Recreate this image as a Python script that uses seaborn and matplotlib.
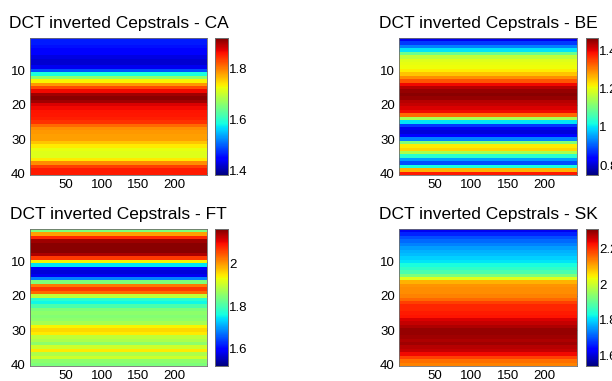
import numpy as np
import pandas as pd
import matplotlib
matplotlib.use("Agg")
import matplotlib.pyplot as plt
import seaborn as sns

sns.set_style("white")
plt.rcParams['font.family'] = ['Liberation Sans', 'DejaVu Sans']
plt.rcParams['text.color'] = 'black'
plt.rcParams['xtick.color'] = 'black'
plt.rcParams['ytick.color'] = 'black'

n_frames = 245
titles = ["DCT inverted Cepstrals - CA", "DCT inverted Cepstrals - BE",
          "DCT inverted Cepstrals - FT", "DCT inverted Cepstrals - SK"]

ca_profile = [1.463, 1.463, 1.458, 1.447, 1.442, 1.431, 1.421, 1.421, 1.437, 1.490,
              1.587, 1.662, 1.731, 1.785, 1.828, 1.865, 1.903, 1.914, 1.903, 1.876,
              1.865, 1.860, 1.858, 1.852, 1.842, 1.812, 1.790, 1.785, 1.780, 1.780,
              1.758, 1.737, 1.721, 1.715, 1.715, 1.737, 1.790, 1.835, 1.855, 1.855]
be_profile = [0.820, 0.877, 0.927, 0.998, 1.091, 1.163, 1.191, 1.198, 1.206, 1.220,
              1.249, 1.291, 1.334, 1.392, 1.427, 1.449, 1.456, 1.449, 1.427, 1.420,
              1.406, 1.392, 1.320, 1.141, 0.998, 0.877, 0.820, 0.805, 0.834, 0.927,
              1.106, 1.220, 1.234, 1.148, 1.034, 0.948, 0.891, 1.020, 1.263, 1.377]
ft_profile = [1.841, 1.997, 2.081, 2.146, 2.159, 2.159, 2.159, 2.139, 2.068, 1.938,
              1.744, 1.595, 1.569, 1.582, 1.679, 1.841, 2.022, 2.068, 2.035, 1.893,
              1.776, 1.757, 1.802, 1.841, 1.854, 1.847, 1.854, 1.873, 1.938, 1.958,
              1.945, 1.893, 1.880, 1.854, 1.906, 1.945, 1.880, 1.906, 1.854, 1.841]
sk_profile = [1.620, 1.666, 1.696, 1.719, 1.735, 1.757, 1.773, 1.780, 1.795, 1.811,
              1.834, 1.856, 1.879, 1.925, 2.016, 2.093, 2.116, 2.123, 2.123, 2.131,
              2.154, 2.184, 2.207, 2.207, 2.215, 2.222, 2.245, 2.260, 2.276, 2.291,
              2.291, 2.283, 2.276, 2.283, 2.268, 2.260, 2.230, 2.184, 2.146, 2.131]
profiles = [ca_profile, be_profile, ft_profile, sk_profile]
vlims = [(1.383, 1.919), (0.748, 1.463), (1.517, 2.165), (1.544, 2.306)]
cbar_ticks = [[1.4, 1.6, 1.8], [0.8, 1.0, 1.2, 1.4], [1.6, 1.8, 2.0], [1.6, 1.8, 2.0, 2.2]]
x_ticks = [50, 100, 150, 200]
y_ticks = [10, 20, 30, 40]

W, H = 612, 381
fig = plt.figure(figsize=(W / 100, H / 100), dpi=100)

# pixel boxes: (left, top, right, bottom) for axes and colorbar
ax_boxes = [(30, 38, 207, 175), (399, 38, 577, 175), (30, 229, 207, 366), (399, 229, 577, 366)]
cb_boxes = [(215, 38, 228, 175), (586, 38, 598, 175), (215, 229, 228, 366), (586, 229, 598, 366)]

def frac(b):
    l, t, r, btm = b
    return [l / W, 1 - btm / H, (r - l) / W, (btm - t) / H]

edge = "#6e6e6e"
for i in range(4):
    ax = fig.add_axes(frac(ax_boxes[i]))
    cax = fig.add_axes(frac(cb_boxes[i]))
    prof = np.array(profiles[i])
    data = pd.DataFrame(np.repeat(prof[:, None], n_frames, axis=1),
                        index=np.arange(1, 41), columns=np.arange(1, n_frames + 1))
    vmin, vmax = vlims[i]
    sns.heatmap(data, ax=ax, cbar_ax=cax, cmap="jet", vmin=vmin, vmax=vmax,
                xticklabels=False, yticklabels=False, rasterized=True)
    ax.set_xticks([v - 0.5 for v in x_ticks])
    ax.set_xticklabels([str(v) for v in x_ticks])
    ax.set_yticks([v - 0.5 for v in y_ticks])
    ax.set_yticklabels([str(v) for v in y_ticks])
    ax.set_xlabel("")
    ax.set_ylabel("")
    ax.tick_params(axis='both', direction='in', length=2.5, width=0.6, color=edge,
                   labelsize=9.5, labelcolor='black', top=True, right=True, pad=3,
                   labelrotation=0)
    for s in ax.spines.values():
        s.set_visible(True)
        s.set_color(edge)
        s.set_linewidth(0.6)
    ax.set_title(titles[i], fontsize=12.5, pad=7, color='black')

    cax.set_yticks(cbar_ticks[i])
    cax.set_yticklabels([f"{t:g}" for t in cbar_ticks[i]])
    cax.tick_params(axis='y', direction='in', length=2.5, width=0.6, color=edge,
                    labelsize=9.5, labelcolor='black', pad=1, left=True, right=True)
    for s in cax.spines.values():
        s.set_visible(True)
        s.set_color(edge)
        s.set_linewidth(0.6)

fig.savefig("out.png", dpi=100)
